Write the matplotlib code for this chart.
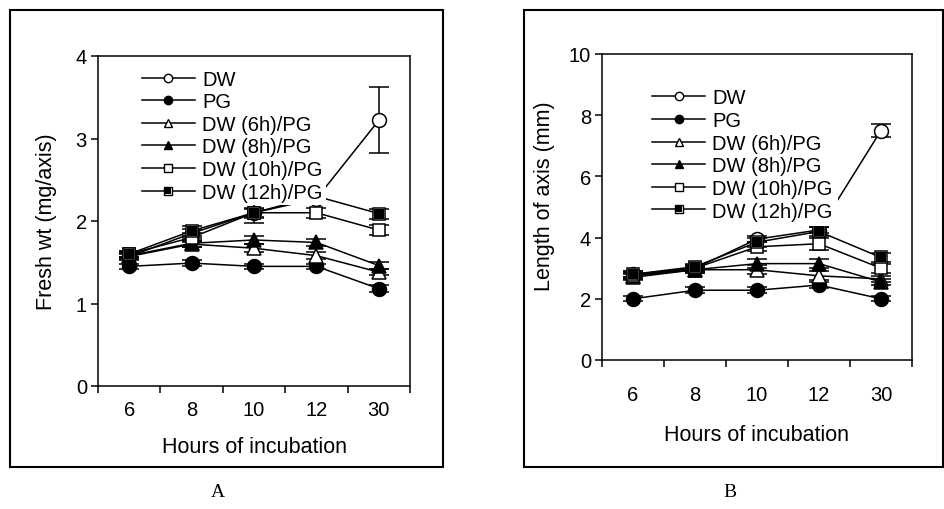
import matplotlib
matplotlib.use("Agg")
import matplotlib.pyplot as plt
from matplotlib.lines import Line2D
from matplotlib.legend_handler import HandlerTuple
from matplotlib.patches import Rectangle

plt.rcParams['font.family'] = ['Liberation Sans', 'DejaVu Sans']

hours = ['6', '8', '10', '12', '30']
series_names = ['DW', 'PG', 'DW (6h)/PG', 'DW (8h)/PG', 'DW (10h)/PG', 'DW (12h)/PG']

# Panel A: fresh weight (mg/axis)
fw_dw   = [1.57, 1.85, 2.10, 2.27, 3.22]
fw_pg   = [1.45, 1.49, 1.45, 1.45, 1.18]
fw_6h   = [1.57, 1.72, 1.67, 1.58, 1.38]
fw_8h   = [1.58, 1.73, 1.77, 1.74, 1.46]
fw_10h  = [1.60, 1.80, 2.10, 2.10, 1.89]
fw_12h  = [1.60, 1.88, 2.10, 2.30, 2.09]
fw_err = [
    [0.04, 0.05, 0.05, 0.05, 0.40],
    [0.03, 0.04, 0.03, 0.03, 0.04],
    [0.03, 0.04, 0.05, 0.04, 0.04],
    [0.03, 0.04, 0.05, 0.04, 0.04],
    [0.04, 0.05, 0.06, 0.06, 0.06],
    [0.04, 0.06, 0.12, 0.06, 0.06],
]

# Panel B: length of axis (mm)
ln_dw   = [2.80, 3.00, 3.95, 4.25, 7.50]
ln_pg   = [2.00, 2.28, 2.28, 2.45, 2.00]
ln_6h   = [2.70, 2.95, 2.95, 2.75, 2.65]
ln_8h   = [2.75, 2.95, 3.15, 3.15, 2.55]
ln_10h  = [2.75, 3.00, 3.70, 3.80, 3.00]
ln_12h  = [2.80, 3.05, 3.85, 4.20, 3.35]
ln_err = [
    [0.10, 0.10, 0.10, 0.10, 0.20],
    [0.08, 0.10, 0.10, 0.10, 0.08],
    [0.10, 0.10, 0.15, 0.15, 0.10],
    [0.10, 0.10, 0.15, 0.15, 0.10],
    [0.10, 0.10, 0.15, 0.20, 0.15],
    [0.10, 0.10, 0.15, 0.15, 0.15],
]

styles = [
    dict(marker='o', mfc='white', mec='black', ms=10),
    dict(marker='o', mfc='black', mec='black', ms=10),
    dict(marker='^', mfc='white', mec='black', ms=10),
    dict(marker='^', mfc='black', mec='black', ms=10),
    dict(marker='s', mfc='white', mec='black', ms=9),
    dict(marker='s', mfc='white', mec='black', ms=9),
]

FS = 14.5
FSL = 15.5
W, H = 944, 510
fig = plt.figure(figsize=(W / 100, H / 100), dpi=100)


def px_axes(l, t, r, b):
    return fig.add_axes([l / W, 1 - b / H, (r - l) / W, (b - t) / H])


def draw_panel(ax, data, errs, ylim, yticks, ylabel, ylab_pos, xtick_pad, xlab_y,
               leg_anchor, leg_pad):
    x = list(range(len(hours)))
    handles = []
    for i, (vals, err, st) in enumerate(zip(data, errs, styles)):
        ax.errorbar(x, vals, yerr=err, color='black', lw=1.1, capsize=7,
                    capthick=1.1, elinewidth=1.1, marker=st['marker'],
                    mfc=st['mfc'], mec=st['mec'], ms=st['ms'], mew=1.1,
                    zorder=2 + i * 0.1)
        h = Line2D([], [], color='black', lw=1.1, marker=st['marker'],
                   mfc=st['mfc'], mec=st['mec'], ms=st['ms'] * 0.6, mew=1.0)
        if i == 5:
            ax.plot(x, vals, ls='none', marker='s', mfc='black', mec='black',
                    ms=7, mew=0, zorder=2.6)
            h2 = Line2D([], [], ls='none', marker='s', mfc='black', mec='black',
                        ms=7 * 0.6, mew=0)
            h = (h, h2)
        handles.append(h)

    ax.set_xlim(-0.5, len(hours) - 0.5)
    ax.set_ylim(*ylim)
    ax.set_yticks(yticks)
    ax.set_yticklabels([str(v) for v in yticks], fontsize=FS)
    ax.set_xticks([i - 0.5 for i in range(len(hours) + 1)])
    ax.set_xticklabels([])
    ax.set_xticks(x, minor=True)
    ax.set_xticklabels(hours, minor=True, fontsize=FS)
    ax.tick_params(axis='x', which='major', direction='out', length=5, width=1.1)
    ax.tick_params(axis='x', which='minor', length=0, pad=xtick_pad)
    ax.tick_params(axis='y', direction='out', length=5, width=1.1, pad=3)
    for s in ax.spines.values():
        s.set_linewidth(1.1)

    ax.set_ylabel(ylabel, fontsize=FSL)
    ax.yaxis.set_label_coords(*ylab_pos)
    ax.yaxis.label.set_va('center')
    ax.set_xlabel('Hours of incubation', fontsize=FSL)
    ax.xaxis.set_label_coords(0.5, xlab_y)
    ax.xaxis.label.set_va('center')

    leg = ax.legend(handles, series_names, loc='upper left',
                    bbox_to_anchor=leg_anchor, borderaxespad=0,
                    borderpad=leg_pad, frameon=True, fancybox=False,
                    facecolor='white', edgecolor='none', framealpha=1,
                    fontsize=FS, handlelength=2.64, handletextpad=0.35,
                    labelspacing=0.18,
                    handler_map={tuple: HandlerTuple(ndivide=1, pad=0)})
    leg.set_zorder(10)


axA = px_axes(98, 57, 410, 387)
draw_panel(axA, [fw_dw, fw_pg, fw_6h, fw_8h, fw_10h, fw_12h], fw_err,
           (0, 4), [0, 1, 2, 3, 4], 'Fresh wt (mg/axis)', (-0.165, 0.5),
           10, -0.182, (0.131, 0.968), 0.15)

axB = px_axes(602, 55, 912, 361)
draw_panel(axB, [ln_dw, ln_pg, ln_6h, ln_8h, ln_10h, ln_12h], ln_err,
           (0, 10), [0, 2, 4, 6, 8, 10], 'Length of axis (mm)', (-0.184, 0.54),
           18, -0.242, (0.145, 0.904), 0.25)

# outer frames
for (l, t, r, b) in [(10, 11, 443, 468), (524, 11, 943, 468)]:
    fig.patches.append(Rectangle((l / W, 1 - b / H), (r - l) / W, (b - t) / H,
                                 transform=fig.transFigure, fill=False,
                                 lw=1.5, ec='black'))

fig.text(218 / W, 1 - 493 / H, 'A', family=['Liberation Serif', 'DejaVu Serif'],
         fontsize=14, ha='center', va='center')
fig.text(730 / W, 1 - 493 / H, 'B', family=['Liberation Serif', 'DejaVu Serif'],
         fontsize=14, ha='center', va='center')

fig.savefig('out.png', dpi=100)
